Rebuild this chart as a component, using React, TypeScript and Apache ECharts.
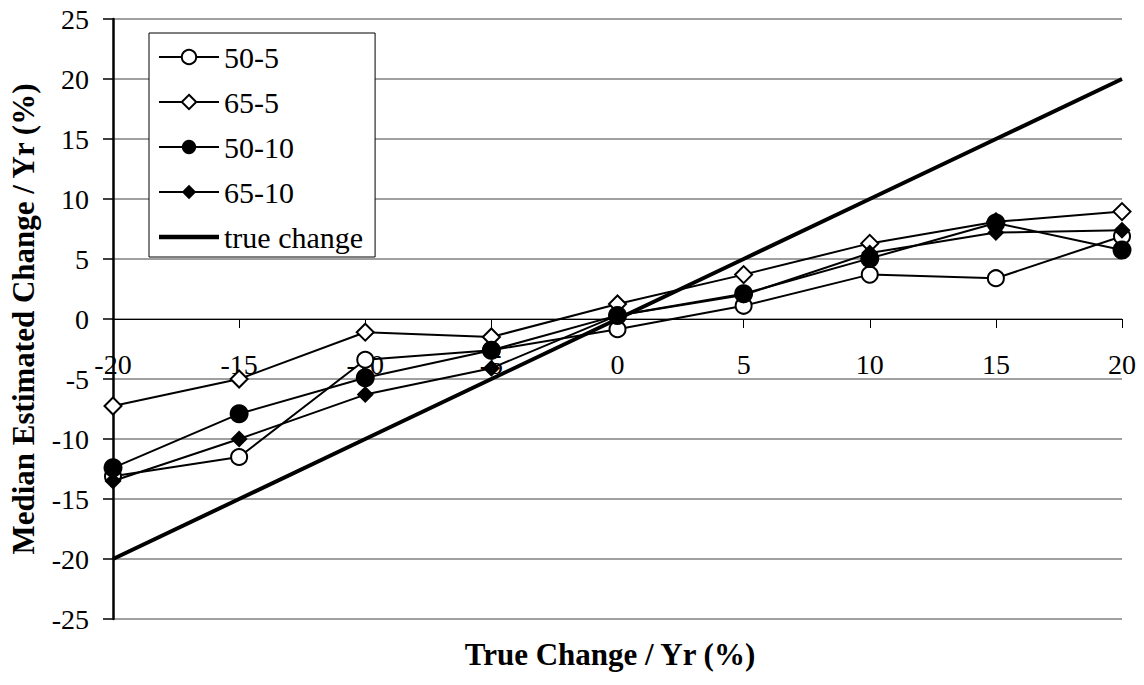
import React, { useEffect, useRef } from "react";
import * as echarts from "echarts";

const trueChangeX = [-20, -15, -10, -5, 0, 5, 10, 15, 20];
const s50_5 = [-13.1, -11.5, -3.4, -2.6, -0.85, 1.1, 3.7, 3.4, 6.9];
const s65_5 = [-7.25, -5.0, -1.1, -1.5, 1.25, 3.7, 6.3, 8.1, 8.95];
const s50_10 = [-12.4, -7.9, -4.9, -2.6, 0.3, 2.1, 5.05, 8.0, 5.75];
const s65_10 = [-13.5, -10.0, -6.3, -4.1, 0.3, 2.0, 5.5, 7.2, 7.4];
const trueChange = [-20, -15, -10, -5, 0, 5, 10, 15, 20];

const FONT = "Liberation Serif";
const FS = 28;

function pairs(ys: number[]) {
  return trueChangeX.map((x, i) => [x, ys[i]]);
}

export default function App() {
  const ref = useRef<HTMLDivElement>(null);
  useEffect(() => {
    if (!ref.current) return;
    const chart = echarts.init(ref.current, null, { renderer: "svg" });
    const lineBase = { type: "line" as const, lineStyle: { color: "#000", width: 2 } };
    chart.setOption({
      animation: false,
      backgroundColor: "#fff",
      textStyle: { fontFamily: FONT },
      grid: { left: 111, right: 22, top: 19, bottom: 66 },
      legend: {
        orient: "vertical",
        left: 149,
        top: 33,
        padding: [9, 12, 5, 9],
        itemGap: 15,
        itemWidth: 60,
        itemHeight: 18,
        backgroundColor: "#fff",
        borderColor: "#000",
        borderWidth: 1,
        borderRadius: 0,
        textStyle: { fontFamily: FONT, fontSize: 30, color: "#000", lineHeight: 30, padding: [0, 0, 0, 0] },
        data: [
          "50-5",
          "65-5",
          "50-10",
          "65-10",
          { name: "true change", icon: "path://M0,0 L60,0 L60,4.5 L0,4.5 Z", itemStyle: { color: "#000" } },
        ],
      },
      xAxis: {
        type: "value",
        min: -20,
        max: 20,
        interval: 5,
        offset: -300,
        axisLine: { onZero: false, lineStyle: { color: "#000", width: 1 } },
        axisTick: { show: true, length: 9, lineStyle: { color: "#000", width: 1 } },
        axisLabel: { fontFamily: FONT, fontSize: FS, color: "#000", margin: 31 },
        splitLine: { show: false },
      },
      yAxis: {
        type: "value",
        min: -25,
        max: 25,
        interval: 5,
        name: "Median Estimated Change / Yr (%)",
        nameLocation: "middle",
        nameGap: 74,
        nameTextStyle: { fontFamily: FONT, fontSize: 31, fontWeight: "bold", color: "#000" },
        axisLine: { show: true, onZero: false, lineStyle: { color: "#000", width: 2.5 } },
        axisTick: { show: true, length: 10, lineStyle: { color: "#000", width: 1.5 } },
        axisLabel: { fontFamily: FONT, fontSize: FS, color: "#000", margin: 24 },
        splitLine: { show: true, lineStyle: { color: "#808080", width: 1.5 } },
      },
      graphic: [
        {
          type: "text",
          x: 610,
          y: 654,
          style: {
            text: "True Change / Yr (%)",
            fontFamily: FONT,
            fontSize: 31,
            fontWeight: "bold",
            fill: "#000",
            align: "center",
            verticalAlign: "middle",
          },
        },
      ],
      series: [
        {
          name: "true change",
          type: "line",
          data: pairs(trueChange),
          symbol: "none",
          lineStyle: { color: "#000", width: 4 },
          itemStyle: { color: "#000" },
          z: 1,
        },
        {
          ...lineBase,
          name: "50-5",
          data: pairs(s50_5),
          symbol: "emptyCircle",
          symbolSize: 16,
          itemStyle: { color: "#000", borderColor: "#000", borderWidth: 1.5 },
          z: 2,
        },
        {
          ...lineBase,
          name: "65-5",
          data: pairs(s65_5),
          symbol: "emptyDiamond",
          symbolSize: 17,
          itemStyle: { color: "#000", borderColor: "#000", borderWidth: 1.5 },
          z: 2,
        },
        {
          ...lineBase,
          name: "50-10",
          data: pairs(s50_10),
          symbol: "circle",
          symbolSize: 19,
          itemStyle: { color: "#000", borderWidth: 0 },
          z: 3,
        },
        {
          ...lineBase,
          name: "65-10",
          data: pairs(s65_10),
          symbol: "diamond",
          symbolSize: 17,
          itemStyle: { color: "#000", borderWidth: 0 },
          z: 3,
        },
      ],
    });
    return () => chart.dispose();
  }, []);
  return (
    <div
      ref={ref}
      style={{ position: "fixed", left: 0, top: 0, width: 1144, height: 685, background: "#fff" }}
    />
  );
}
